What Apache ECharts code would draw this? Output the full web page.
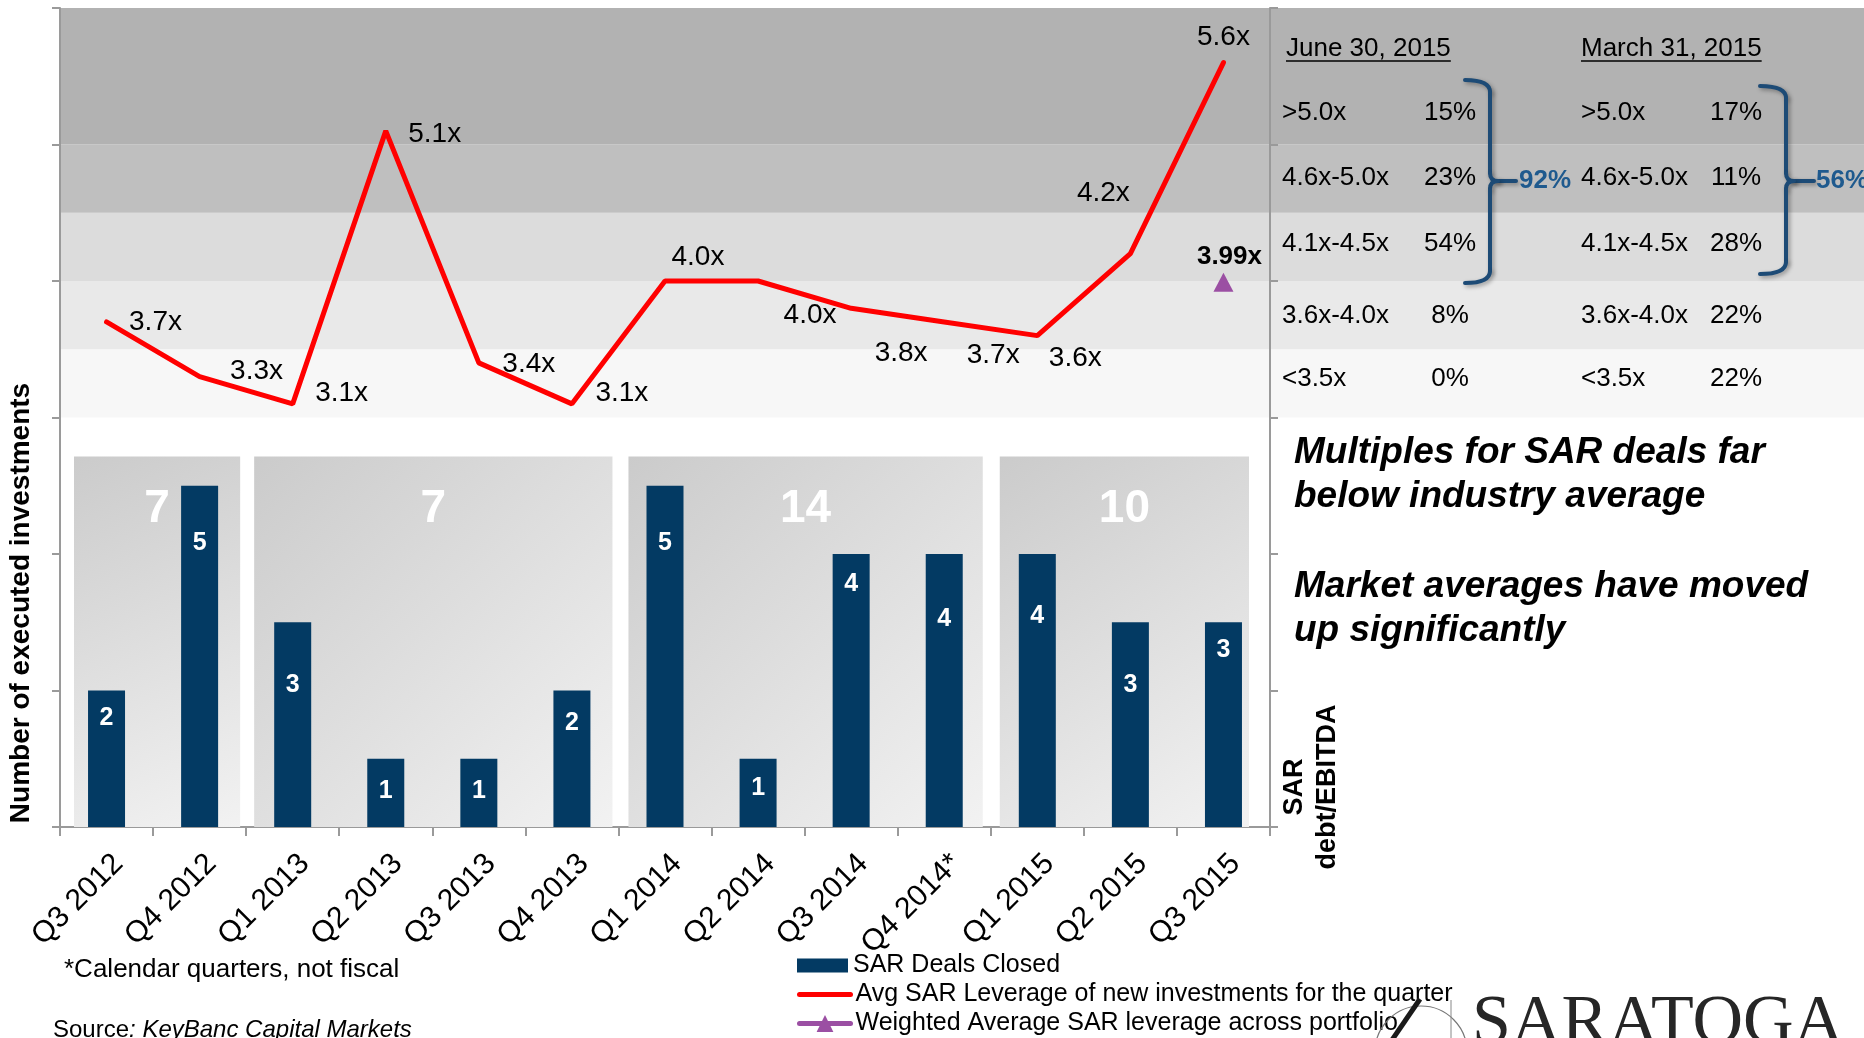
<!DOCTYPE html>
<html>
<head>
<meta charset="utf-8">
<script src="https://cdn.jsdelivr.net/npm/echarts@6/dist/echarts.min.js"></script>
<style>
  html, body { margin: 0; padding: 0; background: #ffffff; }
  #chart { width: 1864px; height: 1038px; }
</style>
</head>
<body>
<div id="chart"></div>
<script>
// ---- Data ----
const quarters = ['Q3 2012', 'Q4 2012', 'Q1 2013', 'Q2 2013', 'Q3 2013', 'Q4 2013',
                  'Q1 2014', 'Q2 2014', 'Q3 2014', 'Q4 2014*', 'Q1 2015', 'Q2 2015', 'Q3 2015'];
const dealsClosed = [2, 5, 3, 1, 1, 2, 5, 1, 4, 4, 4, 3, 3];
const avgLeverage = [3.7, 3.3, 3.1, 5.1, 3.4, 3.1, 4.0, 4.0, 3.8, 3.7, 3.6, 4.2, 5.6];
const portfolioQuarter = 'Q3 2015';
const portfolioLeverage = 3.99;

// calendar-year groups: [first quarter index, last quarter index]
const yearSpans = [[0, 1], [2, 5], [6, 9], [10, 12]];
const yearTotals = [7, 7, 14, 10];

// leverage bands (debt/EBITDA) shaded behind the chart and the table
const bandRanges = [[3.0, 3.5], [3.5, 4.0], [4.0, 4.5], [4.5, 5.0], [5.0, 6.0]];

// leverage distribution table
const bucketLabels = ['>5.0x', '4.6x-5.0x', '4.1x-4.5x', '3.6x-4.0x', '<3.5x'];
const juneShares = ['15%', '23%', '54%', '8%', '0%'];
const marchShares = ['17%', '11%', '28%', '22%', '22%'];
const juneTop3 = '92%';
const marchTop3 = '56%';
const juneHeader = 'June 30, 2015';
const marchHeader = 'March 31, 2015';

// ---- Layout / style constants ----
const FONT = "'Liberation Sans', Arial, Helvetica, sans-serif";
const bandColors = ['#f7f7f7', '#e9e9e9', '#dcdcdc', '#bfbfbf', '#b2b2b2'];
const NAVY = '#033a63';
const RED = '#ff0000';
const PURPLE = '#9b4fa3';
const BRACE = '#1d4b76';
const AXIS_GREY = '#9a9a9a';
const PANEL_TOP = 5.43;                    // top edge of the year panels, deals scale
const panelInsets = [[14, 6], [8, 6], [10, 8], [9, 21]];
const barLabelDrop = [26, 56, 61, 31, 31, 31, 56, 28, 29, 64, 61, 61, 26];
const lineLabelShift = [[22, 0], [30, -5], [22, -11], [22, 3], [23, 1], [23, -11],
                        [6, -24], [25, 34], [23, 45], [22, 33], [11, 23], [-54, -60], [-27, -25]];
const tableRowY = [113, 178, 244, 316, 379];

const measureCtx = document.createElement('canvas').getContext('2d');
function textWidth(t, font) { measureCtx.font = font; return measureCtx.measureText(t).width; }

// curly bracket "}" made of curves and straight strokes
function brace(xL, xV, xN, yTop, yBot, yMid) {
  const st = { stroke: BRACE, lineWidth: 4, fill: null, lineCap: 'round',
               shadowBlur: 4, shadowColor: 'rgba(0,0,0,0.35)', shadowOffsetX: 2, shadowOffsetY: 2 };
  const curve = (x1, y1, cx, cy, x2, y2) => ({ type: 'bezierCurve', z: 20, shape: { x1, y1, cpx1: cx, cpy1: cy, x2, y2 }, style: st });
  const seg = (x1, y1, x2, y2) => ({ type: 'line', z: 20, shape: { x1, y1, x2, y2 }, style: st });
  return {
    type: 'group', z: 20,
    children: [
      curve(xL, yTop, xV, yTop, xV, yTop + 12),
      seg(xV, yTop + 12, xV, yMid - 8),
      curve(xV, yMid - 8, xV, yMid, xV + 8, yMid),
      seg(xV + 8, yMid, xN, yMid),
      curve(xV, yMid + 8, xV, yMid, xV + 8, yMid),
      seg(xV, yMid + 8, xV, yBot - 12),
      curve(xV, yBot - 12, xV, yBot, xL, yBot)
    ]
  };
}

function txt(x, y, text, font, extra) {
  return Object.assign({
    type: 'text', z: 20, x: x, y: y,
    style: Object.assign({ text: text, font: font, fill: '#000', textAlign: 'left', textVerticalAlign: 'middle' },
                         (extra && extra.style) || {})
  }, extra && extra.el ? extra.el : {});
}

// ---- Side table and annotations ----
const tableFont = `26px ${FONT}`;
const graphics = [];

graphics.push(txt(21, 603, 'Number of executed investments', `bold 28px ${FONT}`,
  { el: { rotation: Math.PI / 2 }, style: { textAlign: 'center' } }));
graphics.push(txt(1311, 787, 'SAR\ndebt/EBITDA', `bold 27px ${FONT}`,
  { el: { rotation: Math.PI / 2 }, style: { textAlign: 'center', lineHeight: 33 } }));

[[1286, juneHeader], [1581, marchHeader]].forEach(([x, t]) => {
  graphics.push(txt(x, 49, t, tableFont));
  graphics.push({ type: 'line', z: 20, shape: { x1: x, y1: 61, x2: x + textWidth(t, tableFont), y2: 61 },
                  style: { stroke: '#000', lineWidth: 1.6 } });
});
bucketLabels.forEach((b, i) => {
  graphics.push(txt(1282, tableRowY[i], b, tableFont));
  graphics.push(txt(1450, tableRowY[i], juneShares[i], tableFont, { style: { textAlign: 'center' } }));
  graphics.push(txt(1581, tableRowY[i], b, tableFont));
  graphics.push(txt(1736, tableRowY[i], marchShares[i], tableFont, { style: { textAlign: 'center' } }));
});
graphics.push(brace(1465, 1490, 1516, 80, 283, 181));
graphics.push(brace(1760, 1786, 1814, 86, 274, 181));
graphics.push(txt(1519, 181, juneTop3, `bold 26px ${FONT}`, { style: { fill: '#1f5a8e' } }));
graphics.push(txt(1816, 181, marchTop3, `bold 26px ${FONT}`, { style: { fill: '#1f5a8e' } }));

graphics.push(txt(1294, 431, 'Multiples for SAR deals far\nbelow industry average', `italic bold 37px ${FONT}`,
  { style: { textVerticalAlign: 'top', lineHeight: 44 } }));
graphics.push(txt(1294, 565, 'Market averages have moved\nup significantly', `italic bold 37px ${FONT}`,
  { style: { textVerticalAlign: 'top', lineHeight: 44 } }));

graphics.push(txt(64, 970, '*Calendar quarters, not fiscal', `26px ${FONT}`));
graphics.push({
  type: 'text', z: 20, x: 53, y: 1030,
  style: {
    text: '{a|Source}{b|: KeyBanc Capital Markets}', textVerticalAlign: 'middle',
    rich: { a: { fontSize: 24, fontFamily: FONT, fill: '#000' },
            b: { fontSize: 24, fontFamily: FONT, fontStyle: 'italic', fill: '#000' } }
  }
});

// company mark, bottom right
graphics.push({ type: 'circle', z: 19, shape: { cx: 1421, cy: 1052, r: 46 },
                style: { stroke: '#777', lineWidth: 1.2, fill: null } });
graphics.push({ type: 'line', z: 19, shape: { x1: 1420, y1: 999, x2: 1392, y2: 1040 },
                style: { stroke: '#1a1a1a', lineWidth: 5 } });
graphics.push({ type: 'line', z: 19, shape: { x1: 1451, y1: 1000, x2: 1451, y2: 1040 },
                style: { stroke: '#888', lineWidth: 1 } });
graphics.push(txt(1472, 990, 'SARATOGA', `70px 'Liberation Serif', 'Times New Roman', serif`,
  { style: { fill: '#262626', textVerticalAlign: 'top' } }));

// ---- Chart ----
const chart = echarts.init(document.getElementById('chart'), null, { renderer: 'canvas' });
const legendText = { fontSize: 25, fontFamily: FONT, color: '#000', lineHeight: 25 };

chart.setOption({
  animation: false,
  grid: { left: 60, right: 594, top: 8, bottom: 211, containLabel: false },
  xAxis: {
    type: 'category', data: quarters, boundaryGap: true,
    axisLine: { lineStyle: { color: AXIS_GREY, width: 2 } },
    axisTick: { show: true, length: 9, interval: 0, lineStyle: { color: AXIS_GREY, width: 2 } },
    axisLabel: { interval: 0, rotate: 45, fontSize: 30, fontFamily: FONT, color: '#000',
                 margin: 20, align: 'right', verticalAlign: 'top', lineHeight: 34 },
    splitLine: { show: false }
  },
  yAxis: [
    { type: 'value', min: 0, max: 12, interval: 2, position: 'left',
      axisLine: { show: true, lineStyle: { color: AXIS_GREY, width: 2 } },
      axisTick: { show: true, length: 8, lineStyle: { color: AXIS_GREY, width: 2 } },
      axisLabel: { show: false }, splitLine: { show: false } },
    { type: 'value', min: 0, max: 6, interval: 1, position: 'right',
      axisLine: { show: true, lineStyle: { color: AXIS_GREY, width: 2 } },
      axisTick: { show: true, length: 8, lineStyle: { color: AXIS_GREY, width: 2 } },
      axisLabel: { show: false }, splitLine: { show: false } }
  ],
  legend: [
    { data: [{ name: 'SAR Deals Closed', icon: 'rect' }], orient: 'vertical', padding: 0,
      left: 797, top: 953, itemWidth: 51, itemHeight: 14, selectedMode: false, textStyle: legendText },
    { data: ['Avg SAR Leverage of new investments for the quarter', 'Weighted Average SAR leverage across portfolio'],
      orient: 'vertical', padding: 0, left: 797, top: 982, itemWidth: 51, itemHeight: 21, itemGap: 4,
      selectedMode: false, textStyle: legendText, lineStyle: { width: 5, cap: 'round' } }
  ],
  series: [
    {
      type: 'custom', name: 'leverage bands', yAxisIndex: 1, z: 0, silent: true, clip: false,
      data: bandRanges.map((r, i) => [0, r[0], r[1], i]),
      encode: { x: 0, y: [1, 2] },
      renderItem(params, api) {
        const cs = params.coordSys;
        const yLo = api.coord([0, api.value(1)])[1];
        const yHi = api.coord([0, api.value(2)])[1];
        return { type: 'rect', shape: { x: cs.x, y: yHi, width: api.getWidth() - cs.x, height: yLo - yHi },
                 style: { fill: bandColors[api.value(3)] } };
      }
    },
    {
      type: 'custom', name: 'year panels', yAxisIndex: 0, z: 1, silent: true,
      data: yearSpans.map((s, i) => [s[0], s[1], yearTotals[i], i]),
      encode: { x: [0, 1], y: 2 },
      renderItem(params, api) {
        const i = api.value(3);
        const half = api.size([1, 0])[0] / 2;
        const x0 = api.coord([api.value(0), 0])[0] - half + panelInsets[i][0];
        const x1 = api.coord([api.value(1), 0])[0] + half - panelInsets[i][1];
        const yTop = api.coord([0, PANEL_TOP])[1];
        const yBot = api.coord([0, 0])[1];
        return {
          type: 'group', children: [
            { type: 'rect', shape: { x: x0, y: yTop, width: x1 - x0, height: yBot - yTop },
              style: { fill: new echarts.graphic.LinearGradient(0, 0, 1, 1, [
                { offset: 0, color: '#cbcbcb' }, { offset: 1, color: '#f2f2f2' }]) } },
            { type: 'text', style: { text: String(api.value(2)), x: (x0 + x1) / 2, y: yTop + 53,
              fill: '#ffffff', font: `bold 46px ${FONT}`, textAlign: 'center', textVerticalAlign: 'middle' } }
          ]
        };
      }
    },
    {
      name: 'SAR Deals Closed', type: 'bar', yAxisIndex: 0, z: 2, barWidth: 37,
      itemStyle: { color: NAVY },
      data: dealsClosed.map((v, i) => ({ value: v, label: { distance: barLabelDrop[i] - 11 } })),
      label: { show: true, position: 'insideTop', color: '#fff', fontWeight: 'bold', fontSize: 25, fontFamily: FONT },
      emphasis: { disabled: true }
    },
    {
      name: 'Avg SAR Leverage of new investments for the quarter', type: 'line', yAxisIndex: 1, z: 3,
      data: avgLeverage.map((v, i) => ({ value: v, label: { offset: lineLabelShift[i] } })),
      symbol: 'circle', symbolSize: 1, showSymbol: true,
      itemStyle: { color: 'rgba(0,0,0,0)' },
      lineStyle: { color: RED, width: 5, cap: 'round' },
      label: { show: true, position: 'right', distance: 0, color: '#000', fontSize: 28, fontFamily: FONT,
               formatter: p => p.value.toFixed(1) + 'x' },
      emphasis: { disabled: true }
    },
    {
      name: 'Weighted Average SAR leverage across portfolio', type: 'line', yAxisIndex: 1, z: 4,
      data: quarters.map(q => (q === portfolioQuarter ? portfolioLeverage : '-')),
      symbol: 'triangle', symbolSize: [20, 19], showSymbol: true,
      itemStyle: { color: PURPLE },
      lineStyle: { color: PURPLE, width: 5, cap: 'round' },
      label: { show: true, position: 'top', distance: 3, offset: [6, 0], color: '#000', fontWeight: 'bold',
               fontSize: 26, fontFamily: FONT, formatter: p => p.value.toFixed(2) + 'x' },
      emphasis: { disabled: true }
    }
  ],
  graphic: { elements: graphics }
});
</script>
</body>
</html>
